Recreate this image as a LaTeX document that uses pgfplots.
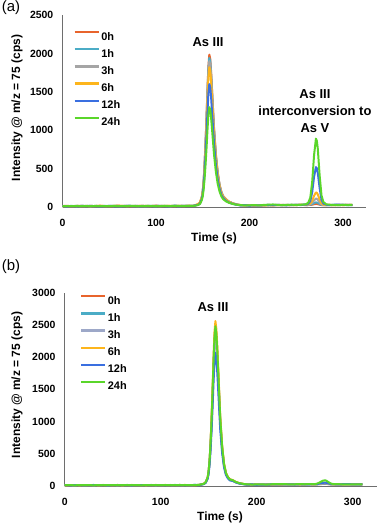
\documentclass[border=0pt]{standalone}
\usepackage{pgfplots}
\usepackage{pgfplotstable}
\pgfplotsset{compat=1.18}
\usepackage{fontspec}
\setmainfont{Liberation Sans}

\definecolor{c0}{HTML}{E8642C}
\definecolor{c1}{HTML}{4BACC6}
\definecolor{c3}{HTML}{A5A5A5}
\definecolor{c3b}{HTML}{9DA8C8}
\definecolor{c6}{HTML}{FDB51C}
\definecolor{c12}{HTML}{3A6FE0}
\definecolor{c24}{HTML}{5AD62A}
\definecolor{axgray}{HTML}{6E6E6E}

\pgfplotstableread{
t a0 a1 a3 a6 a12 a24
0 12 10 14 9 11 13
5 15 12 10 13 9 12
10 10 14 12 11 13 10
15 13 9 15 12 10 14
20 16 13 11 10 14 11
25 11 15 13 14 12 13
30 14 11 9 12 15 10
35 12 13 14 10 11 14
40 17 10 12 15 13 12
45 13 14 11 12 10 13
50 10 12 15 11 14 11
55 15 16 12 13 12 14
60 18 13 10 14 11 12
65 12 11 14 16 13 10
70 14 15 12 11 15 13
75 11 12 16 13 12 15
80 16 14 11 12 10 12
85 13 10 13 15 14 11
90 15 13 12 10 12 14
95 12 15 14 13 11 12
100 17 12 11 14 15 13
105 14 16 13 12 12 11
110 11 13 15 16 13 14
115 16 12 12 13 11 12
120 13 17 14 12 14 15
125 15 14 12 15 12 13
130 12 15 16 13 15 12
135 16 13 14 17 13 16
140 14 16 15 14 16 14
145 35 30 30 40 28 25
147 55 50 48 60 45 40
149 130 125 120 130 105 90
150 210 205 200 200 170 140
151 350 340 330 320 285 235
152 570 555 545 520 460 375
153 845 830 810 780 680 555
154 1160 1140 1115 1070 935 760
155 1520 1490 1460 1400 1225 995
156 1830 1790 1755 1680 1475 1200
157 1985 1940 1900 1820 1600 1300
158 1930 1900 1850 1780 1560 1270
159 1750 1720 1680 1620 1415 1150
160 1510 1490 1455 1400 1225 1000
162 1040 1020 1000 960 840 690
164 690 675 660 640 555 460
166 450 440 430 420 360 300
168 290 285 280 270 235 200
170 190 190 185 180 155 135
172 140 135 135 130 115 100
175 100 95 95 95 80 72
178 70 70 68 68 58 55
182 50 48 48 45 40 40
186 35 33 33 32 30 30
190 25 22 27 24 21 26
195 20 24 18 22 25 20
200 23 19 21 25 18 22
205 18 22 24 19 23 25
210 24 20 19 23 20 21
215 21 25 23 20 24 27
220 26 22 20 24 28 30
225 22 27 25 21 23 33
230 25 23 28 26 27 28
235 28 26 22 24 25 24
240 23 29 27 28 22 26
245 27 24 25 23 29 30
250 24 28 30 27 26 25
255 29 25 26 31 28 29
258 26 30 28 27 30 32
261 25 24 27 28 30 38
263 26 27 30 34 45 62
265 28 30 36 45 78 122
267 30 37 55 80 190 322
269 36 50 85 145 390 672
271 40 60 110 190 520 890
272 39 58 107 185 505 863
273 37 54 96 165 445 760
275 30 38 58 95 245 410
277 25 28 33 46 93 150
279 23 24 26 30 45 65
282 24 26 24 25 30 35
285 27 23 26 28 25 30
290 24 28 25 23 29 27
295 29 25 27 26 32 24
300 25 27 30 24 26 28
305 28 24 26 29 27 25
310 26 29 24 27 25 28
}\tableA

\pgfplotstableread{
t b0 b1 b3 b6 b12 b24
0 13 11 12 10 14 12
5 11 14 13 12 10 15
10 14 12 10 15 13 11
15 12 15 14 11 12 13
20 15 10 12 13 15 12
25 10 13 15 12 11 14
30 13 16 11 14 13 11
35 15 12 13 11 12 15
40 12 14 16 13 14 12
45 14 11 12 15 11 13
50 11 15 14 12 13 14
55 16 13 11 14 15 12
60 13 12 15 11 12 13
65 15 14 12 13 14 16
70 12 11 14 16 11 12
75 14 15 13 12 15 14
80 11 13 15 14 12 11
85 15 12 12 11 14 15
90 13 16 14 15 13 12
95 16 13 11 12 15 14
100 12 15 15 14 12 13
105 14 12 13 16 14 15
110 15 14 16 12 13 12
115 12 16 12 15 15 14
120 16 13 15 13 12 16
125 13 15 14 16 15 13
130 15 14 13 14 14 15
135 14 16 15 15 16 14
140 16 15 17 16 15 17
145 35 33 32 36 30 35
147 60 58 57 62 52 62
149 135 130 128 140 115 138
150 235 228 225 245 200 238
151 405 395 385 420 345 410
152 675 655 640 700 570 680
153 1015 990 970 1060 860 1025
154 1435 1395 1365 1495 1210 1445
155 1900 1845 1810 1980 1600 1915
156 2290 2225 2180 2385 1930 2300
157 2460 2390 2340 2560 2070 2480
158 2340 2275 2225 2435 1970 2360
159 2070 2010 1970 2155 1745 2090
160 1730 1680 1645 1800 1455 1745
162 1045 1015 995 1085 880 1055
164 600 585 575 625 510 605
166 330 325 318 345 285 335
168 195 190 188 205 170 198
170 135 130 128 140 118 138
172 100 98 96 104 88 102
175 88 85 84 92 78 90
178 62 60 60 65 56 63
182 42 40 40 44 38 43
186 32 30 30 33 28 32
190 24 22 25 23 21 26
195 21 24 20 22 25 23
200 23 20 22 25 19 24
205 19 23 24 20 22 26
210 24 21 20 23 21 22
215 22 25 23 21 24 27
220 25 22 21 24 27 29
225 23 26 25 22 24 31
230 26 24 27 25 26 28
235 27 25 23 24 25 26
240 24 28 26 27 23 27
245 26 25 24 23 28 30
250 25 27 29 26 25 27
255 28 24 26 30 27 29
258 26 28 27 26 29 30
261 25 24 26 27 28 30
263 27 26 28 29 31 38
265 28 29 31 33 36 50
267 30 32 36 40 42 68
269 33 36 40 45 48 82
271 35 38 43 48 52 88
272 34 37 42 47 50 85
273 32 35 39 44 47 78
275 29 30 33 36 38 58
277 26 27 28 30 31 40
279 25 26 25 27 28 32
282 24 25 26 25 27 29
285 26 23 25 27 24 28
290 24 27 24 23 28 26
295 27 25 26 25 30 24
300 25 26 28 24 25 27
305 27 24 25 28 26 25
310 25 28 24 26 24 27
}\tableB

\tikzset{ser/.style={#1, line width=2pt, line join=round}}

\pgfplotsset{
  chrom/.style={
    scale only axis,
    axis x line=bottom, axis y line=left,
    axis line style={-, axgray, line width=0.8pt},
    major tick length=0pt,
    xmin=0, xmax=325, ymin=0,
    xtick={0,100,200,300},
    /pgf/number format/assume math mode=true,
    /pgf/number format/1000 sep={},
    tick label style={font=\bfseries\fontsize{10.5}{12}\selectfont, inner sep=0pt},
    yticklabel style={xshift=-9bp},
    xticklabel style={yshift=-12bp},
    clip=false,
    legend cell align=left,
    legend style={draw=none, fill=none, inner sep=0pt,
      font=\bfseries\fontsize{11}{12}\selectfont,
      nodes={inner ysep=0pt, inner xsep=1.5bp, text height=8bp, text depth=0bp},
      row sep=8bp},
    legend image code/.code={\draw[#1, line width=2.2pt] (0bp,4bp) -- (24bp,4bp);},
  }
}

\begin{document}
\begin{tikzpicture}
\useasboundingbox (0,0) rectangle (378bp,-525bp);

% panel (a)
\begin{axis}[chrom,
  at={(62.5bp,-207bp)}, anchor=origin,
  width=303.9bp, height=192bp,
  ymax=2500, ytick={0,500,1000,1500,2000,2500},
  legend style={at={(0.036,0.917)}, anchor=north west}]
\addplot[ser=c0] table[x=t,y=a0]{\tableA};
\addplot[ser=c1] table[x=t,y=a1]{\tableA};
\addplot[ser=c3] table[x=t,y=a3]{\tableA};
\addplot[ser=c6] table[x=t,y=a6]{\tableA};
\addplot[ser=c12] table[x=t,y=a12]{\tableA};
\addplot[ser=c24] table[x=t,y=a24]{\tableA};
\legend{0h,1h,3h,6h,12h,24h}
\node[font=\bfseries\fontsize{13}{15}\selectfont] at (axis cs:155.6,2148) {As III};
\node[font=\bfseries\fontsize{13}{17}\selectfont, align=center] at (axis cs:270,1250) {As III\\interconversion to\\As V};
\end{axis}

% panel (b)
\begin{axis}[chrom,
  at={(64.7bp,-486bp)}, anchor=origin,
  width=312bp, height=193.3bp,
  ymax=3000, ytick={0,500,1000,1500,2000,2500,3000},
  legend style={at={(0.049,0.988)}, anchor=north west}]
\addplot[ser=c0] table[x=t,y=b0]{\tableB};
\addplot[ser=c1] table[x=t,y=b1]{\tableB};
\addplot[ser=c3b] table[x=t,y=b3]{\tableB};
\addplot[ser=c6] table[x=t,y=b6]{\tableB};
\addplot[ser=c12] table[x=t,y=b12]{\tableB};
\addplot[ser=c24] table[x=t,y=b24]{\tableB};
\legend{0h,1h,3h,6h,12h,24h}
\node[font=\bfseries\fontsize{13}{15}\selectfont] at (axis cs:154.5,2778) {As III};
\end{axis}

% labels
\node[font=\fontsize{15}{17}\selectfont] at (11bp,-8bp) {(a)};
\node[font=\fontsize{15}{17}\selectfont] at (11bp,-267bp) {(b)};
\node[font=\bfseries\fontsize{12}{14}\selectfont, rotate=90] at (17bp,-108bp) {Intensity @ m/z = 75 (cps)};
\node[font=\bfseries\fontsize{12}{14}\selectfont, rotate=90] at (17bp,-385bp) {Intensity @ m/z = 75 (cps)};
\node[font=\bfseries\fontsize{12}{14}\selectfont] at (214bp,-238bp) {Time (s)};
\node[font=\bfseries\fontsize{12}{14}\selectfont] at (220bp,-517bp) {Time (s)};
\end{tikzpicture}
\end{document}
